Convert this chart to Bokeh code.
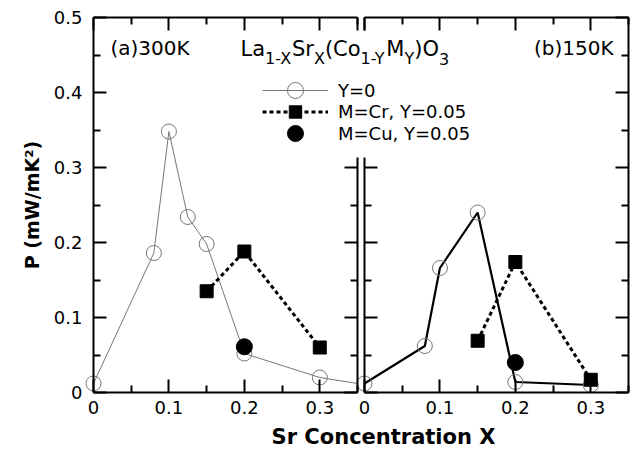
from bokeh.plotting import figure
from bokeh.models import (Range1d, LinearAxis, FixedTicker, Label, Legend, LegendItem,
                          CustomJSTickFormatter)
from bokeh.embed import file_html
from bokeh.resources import INLINE

FONT = "DejaVu Sans"

# ---------------- data ----------------
X_TICKS = [0, 0.1, 0.2, 0.3]
X_MINOR = [0.05, 0.15, 0.25, 0.35]
Y_TICKS = [0, 0.1, 0.2, 0.3, 0.4, 0.5]
Y_MINOR = [0.05, 0.15, 0.25, 0.35, 0.45]

# (a) 300K
a_y0_x = [0, 0.08, 0.1, 0.125, 0.15, 0.2, 0.3]
a_y0_p = [0.012, 0.186, 0.348, 0.234, 0.198, 0.052, 0.020]
a_y0_tail_x = [0.35]          # line leaves the panel at its right edge
a_y0_tail_p = [0.012]
a_cr_x = [0.15, 0.2, 0.3]
a_cr_p = [0.135, 0.188, 0.060]
a_cu_x = [0.2]
a_cu_p = [0.061]

# (b) 150K
b_y0_x = [0, 0.08, 0.1, 0.15, 0.2, 0.3]
b_y0_p = [0.012, 0.062, 0.166, 0.240, 0.014, 0.010]
b_cr_x = [0.15, 0.2, 0.3]
b_cr_p = [0.069, 0.174, 0.017]
b_cu_x = [0.2]
b_cu_p = [0.040]

LEG_LABELS = ["Y=0", "M=Cr, Y=0.05", "M=Cu, Y=0.05"]

# ---------------- geometry (canvas pixels) ----------------
W, H = 640, 454
X0_A, X0_B = 93, 364      # x of Sr = 0 in panels (a) and (b)
Y0_PX = 392               # y of P = 0
KX = 264 / 0.35
KY = 375 / 0.5


def xa(px):
    return (px - X0_A) / KX


def xb(px):
    return (px - X0_B) / KX


def yv(py):
    return (Y0_PX - py) / KY


p = figure(width=W, height=H,
           x_range=Range1d(xa(0), xa(W)), y_range=Range1d(yv(H), yv(0)),
           x_axis_type=None, y_axis_type=None,
           toolbar_location=None, output_backend="svg",
           min_border=0, outline_line_color=None,
           background_fill_color="white", border_fill_color="white")
p.extra_x_ranges = {"b": Range1d(xb(0), xb(W))}
p.xgrid.visible = False
p.ygrid.visible = False


def add_axis(side, rng="default", fixed=None, bounds=None, ticks=(), minor=(),
             labels=False, **kw):
    lo, hi = bounds
    ax = LinearAxis(x_range_name=rng, fixed_location=fixed, bounds=bounds,
                    ticker=FixedTicker(ticks=[t for t in ticks if lo <= t <= hi],
                                       minor_ticks=[t for t in minor if lo <= t <= hi]),
                    axis_line_width=2, axis_line_color="black",
                    major_tick_in=13, major_tick_out=0, major_tick_line_width=2,
                    major_tick_line_color="black",
                    minor_tick_in=7, minor_tick_out=0, minor_tick_line_width=2,
                    minor_tick_line_color="black",
                    major_label_text_font=FONT, major_label_text_font_size="18px",
                    major_label_text_color="black", **kw)
    if labels:
        ax.major_label_overrides = {0: "0"}
    else:
        ax.formatter = CustomJSTickFormatter(code="return ''")
    p.add_layout(ax, side)
    return ax


GAP_LO, GAP_HI = yv(157), yv(30)   # inner borders hidden behind title / legend

# panel (a)
add_axis("left", fixed=0, bounds=(0, 0.5), ticks=Y_TICKS, minor=Y_MINOR, labels=True,
         major_label_standoff=11, axis_label="P (mW/mK²)", axis_label_standoff=8,
         axis_label_text_font=FONT, axis_label_text_font_size="19px",
         axis_label_text_font_style="bold", axis_label_text_color="black")
add_axis("right", fixed=0.35, bounds=(0, GAP_LO), ticks=Y_TICKS, minor=Y_MINOR)
add_axis("right", fixed=0.35, bounds=(GAP_HI, 0.5))
add_axis("below", fixed=0, bounds=(0, 0.35), ticks=X_TICKS, minor=X_MINOR, labels=True,
         major_label_standoff=8)
add_axis("above", fixed=0.5, bounds=(0, 0.35), ticks=X_TICKS, minor=X_MINOR)
# panel (b)
add_axis("left", rng="b", fixed=0, bounds=(0, GAP_LO), ticks=Y_TICKS, minor=Y_MINOR)
add_axis("left", rng="b", fixed=0, bounds=(GAP_HI, 0.5))
add_axis("right", rng="b", fixed=0.35, bounds=(0, 0.5), ticks=Y_TICKS, minor=Y_MINOR)
add_axis("below", rng="b", fixed=0, bounds=(0, 0.35), ticks=X_TICKS, minor=X_MINOR,
         labels=True, major_label_standoff=8)
add_axis("above", rng="b", fixed=0.5, bounds=(0, 0.35), ticks=X_TICKS, minor=X_MINOR)

GRAY = "#777777"
# ---- panel (a) series
a_line = p.line(a_y0_x + a_y0_tail_x, a_y0_p + a_y0_tail_p, line_color=GRAY, line_width=1)
a_pts = p.scatter(a_y0_x, a_y0_p, marker="circle", size=15, fill_color=None,
                  line_color=GRAY, line_width=1)
a_crl = p.line(a_cr_x, a_cr_p, line_color="black", line_width=3, line_dash="4 3")
a_crp = p.scatter(a_cr_x, a_cr_p, marker="square", size=13, color="black")
a_cu = p.scatter(a_cu_x, a_cu_p, marker="circle", size=16, color="black")

# ---- panel (b) series
p.line(b_y0_x, b_y0_p, line_color="black", line_width=2.2, x_range_name="b")
p.scatter(b_y0_x, b_y0_p, marker="circle", size=15, fill_color=None, line_color=GRAY,
          line_width=1, x_range_name="b")
p.line(b_cr_x, b_cr_p, line_color="black", line_width=3, line_dash="4 3", x_range_name="b")
p.scatter(b_cr_x, b_cr_p, marker="square", size=13, color="black", x_range_name="b")
p.scatter(b_cu_x, b_cu_p, marker="circle", size=16, color="black", x_range_name="b")


def add_legend(label, renderers, center_py, glyph_h):
    lg = Legend(items=[LegendItem(label=label, renderers=renderers)],
                location=(262, H - (center_py + glyph_h / 2)),
                glyph_width=66, glyph_height=glyph_h, label_standoff=10,
                padding=0, margin=0, spacing=0, border_line_color=None,
                background_fill_alpha=0, label_text_font=FONT,
                label_text_font_size="18px", label_text_color="black")
    p.add_layout(lg, "center")


add_legend(LEG_LABELS[0], [a_line, a_pts], 90, 40)
add_legend(LEG_LABELS[1], [a_crp, a_crl], 111.5, 31)
add_legend(LEG_LABELS[2], [a_cu], 133, 40)

# panel captions
p.add_layout(Label(x=xa(110), y=yv(47), text="(a)300K", text_font=FONT,
                   text_font_size="20px", text_baseline="alphabetic", text_color="black"))
p.add_layout(Label(x=xb(613), y=yv(47), text="(b)150K", text_font=FONT,
                   text_font_size="20px", text_baseline="alphabetic", text_align="right",
                   text_color="black", x_range_name="b"))

# formula La1-XSrX(Co1-YMY)O3 with subscripts
EM = {"L": 0.557, "a": 0.613, "1": 0.636, "-": 0.361, "X": 0.684, "S": 0.635,
      "r": 0.411, "(": 0.390, "C": 0.698, "o": 0.612, "Y": 0.611, "M": 0.863,
      ")": 0.390, "O": 0.787, "3": 0.636}
pieces = [("La", 0), ("1-X", 1), ("Sr", 0), ("X", 1), ("(Co", 0), ("1-Y", 1),
          ("M", 0), ("Y", 1), (")O", 0), ("3", 1)]
MAIN_FS, SUB_FS = 21, 16
cur = 240.0
for txt, sub in pieces:
    fs = SUB_FS if sub else MAIN_FS
    p.add_layout(Label(x=xa(cur), y=yv(58 if sub else 48), text=txt, text_font=FONT,
                       text_font_size=f"{fs}px", text_baseline="alphabetic",
                       text_color="black"))
    cur += sum(EM[c] for c in txt) * fs

# x axis title
p.add_layout(Label(x=xa(383), y=yv(436), text="Sr Concentration X", text_font=FONT,
                   text_font_size="21px", text_font_style="bold", text_align="center",
                   text_baseline="middle", text_color="black"))

open("out.html", "w").write(file_html(p, INLINE))
